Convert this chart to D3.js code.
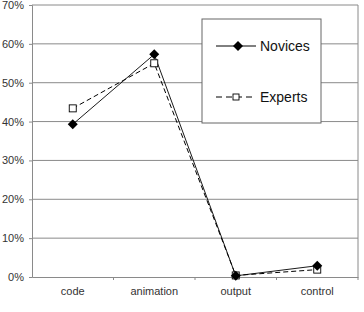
<!DOCTYPE html>
<html><head><meta charset="utf-8">
<script src="https://cdn.jsdelivr.net/npm/d3@7"></script>
<style>body{margin:0;background:#fff}svg{display:block}</style>
</head><body>
<svg id="c" width="364" height="312"></svg>
<script>
const categories = ["code", "animation", "output", "control"];
const novices = [39.3, 57.3, 0.3, 2.9];
const experts = [43.4, 55.0, 0.4, 1.9];
const yTicks = [0, 10, 20, 30, 40, 50, 60, 70];
const seriesNames = ["Novices", "Experts"];

const svg = d3.select("#c");
const L = 32, R = 358, T = 5, B = 277;
const x = d3.scaleBand().domain(categories).range([L, R]);
const y = d3.scaleLinear().domain([0, 70]).range([B, T]);
const grid = "#8a8a8a", txt = "#333";

svg.append("g").selectAll("line").data(yTicks.filter(d => d > 0)).join("line")
  .attr("x1", L).attr("x2", R).attr("y1", d => y(d)).attr("y2", d => y(d))
  .attr("stroke", grid).attr("stroke-width", 1);
svg.append("line").attr("x1", R).attr("x2", R).attr("y1", T).attr("y2", B)
  .attr("stroke", grid);

const ya = svg.append("g").attr("transform", `translate(${L},0)`)
  .call(d3.axisLeft(y).tickValues(yTicks).tickFormat(d => d + "%").tickSize(3).tickPadding(5));
ya.select(".domain").attr("stroke", grid);
ya.selectAll(".tick line").attr("stroke", grid);
ya.selectAll("text").attr("font-family", "Liberation Sans, Arial, sans-serif").attr("font-size", 11).attr("fill", txt);

const xa = svg.append("g").attr("transform", `translate(0,${B})`)
  .call(d3.axisBottom(x).tickSize(0).tickPadding(10));
xa.select(".domain").attr("stroke", grid);
xa.selectAll("text").attr("font-family", "Liberation Sans, Arial, sans-serif").attr("font-size", 11).attr("fill", txt);
svg.append("g").selectAll("line").data(categories.slice(1).concat(["__end"])).join("line")
  .attr("x1", (d, i) => i < 3 ? x(d) : R).attr("x2", (d, i) => i < 3 ? x(d) : R)
  .attr("y1", B).attr("y2", B + 3).attr("stroke", grid);

const cx = d => x(d) + x.bandwidth() / 2;
const line = d3.line().x((d, i) => cx(categories[i])).y(d => y(d));

svg.append("path").datum(experts).attr("d", line).attr("fill", "none")
  .attr("stroke", "#000").attr("stroke-width", 1).attr("stroke-dasharray", "5,3");
svg.append("path").datum(novices).attr("d", line).attr("fill", "none")
  .attr("stroke", "#000").attr("stroke-width", 0.9);

function square(g, px, py, s) {
  g.append("rect").attr("x", px - s / 2).attr("y", py - s / 2).attr("width", s).attr("height", s)
    .attr("fill", "#fff").attr("stroke", "#000").attr("stroke-width", 0.9);
}
function diamond(g, px, py) {
  g.append("path").attr("d", `M${px},${py-5}L${px+5},${py}L${px},${py+5}L${px-5},${py}Z`).attr("fill", "#000");
}
const mk = svg.append("g");
experts.forEach((v, i) => square(mk, cx(categories[i]), y(v), 7));
novices.forEach((v, i) => diamond(mk, cx(categories[i]), y(v)));

const lg = svg.append("g");
lg.append("rect").attr("x", 202).attr("y", 19).attr("width", 119).attr("height", 104)
  .attr("fill", "#fff").attr("stroke", "#666").attr("stroke-width", 1);
const ly = [46, 97];
lg.append("line").attr("x1", 216).attr("x2", 256).attr("y1", ly[0]).attr("y2", ly[0]).attr("stroke", "#000");
diamond(lg, 238, ly[0]);
lg.append("line").attr("x1", 216).attr("x2", 256).attr("y1", ly[1]).attr("y2", ly[1]).attr("stroke", "#000").attr("stroke-dasharray", "6,4");
square(lg, 236, ly[1], 6);
seriesNames.forEach((n, i) => {
  lg.append("text").attr("x", 260).attr("y", ly[i] + 5).text(n)
    .attr("font-family", "Liberation Sans, Arial, sans-serif").attr("font-size", 14).attr("fill", "#111");
});
</script>
</body></html>
